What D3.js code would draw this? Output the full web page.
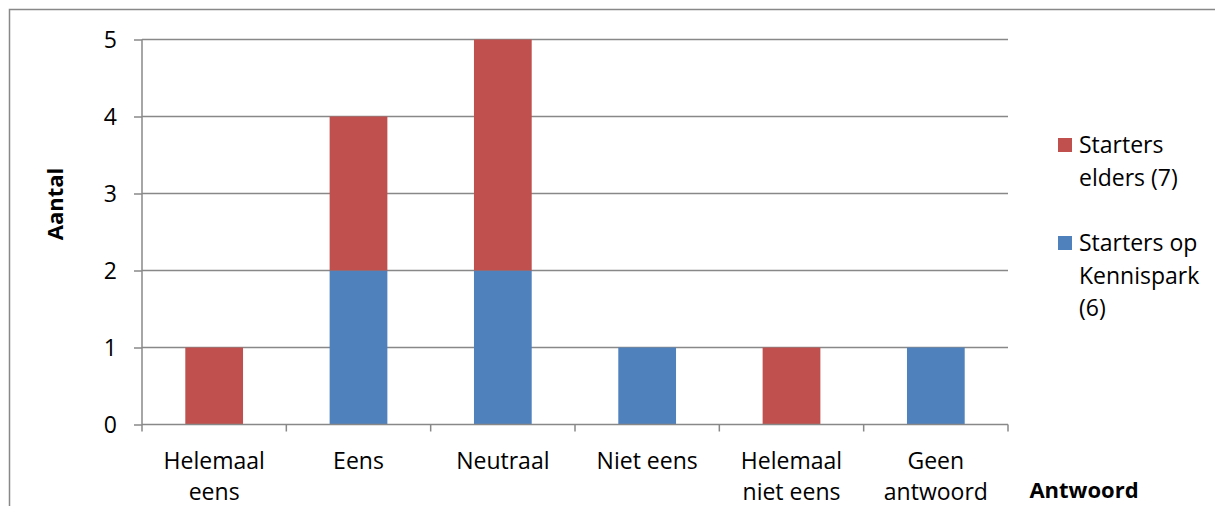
<!DOCTYPE html>
<html>
<head>
<meta charset="utf-8">
<script src="https://cdn.jsdelivr.net/npm/d3@7"></script>
<style>
  html, body { margin: 0; padding: 0; background: #fff; }
  svg { display: block; font-family: "Open Sans", sans-serif; }
</style>
</head>
<body>
<svg id="chart" width="1215" height="506"></svg>
<script>
// Answer categories (each label split into lines)
const categories = [
  ["Helemaal", "eens"],
  ["Eens"],
  ["Neutraal"],
  ["Niet eens"],
  ["Helemaal", "niet eens"],
  ["Geen", "antwoord"]
];
// Stacked series, bottom to top
const kennispark = [0, 2, 2, 1, 0, 1];
const elders     = [1, 2, 3, 0, 1, 0];
const seriesNames = ["Starters op Kennispark (6)", "Starters elders (7)"];
const seriesColors = ["#4F81BD", "#C0504D"];
const yTicks = [0, 1, 2, 3, 4, 5];

const svg = d3.select("#chart");
const grid = "#888888";

// Outer chart frame
svg.append("rect")
  .attr("x", 9.5).attr("y", 9.5)
  .attr("width", 1300).attr("height", 600)
  .attr("fill", "none").attr("stroke", grid).attr("stroke-width", 1.5);

const plot = { left: 142, right: 1008, top: 39.5, bottom: 424.5 };

const x = d3.scaleBand()
  .domain(d3.range(categories.length))
  .range([plot.left, plot.right])
  .paddingInner(0.6).paddingOuter(0.3);

const y = d3.scaleLinear().domain([0, 5]).range([plot.bottom, plot.top]);

// Horizontal gridlines
svg.append("g").selectAll("line").data(yTicks.filter(d => d > 0)).join("line")
  .attr("x1", plot.left).attr("x2", plot.right)
  .attr("y1", d => y(d)).attr("y2", d => y(d))
  .attr("stroke", grid).attr("stroke-width", 1.5);

// Stacked bars
const rows = categories.map((c, i) => ({ i, k: kennispark[i], e: elders[i] }));
const stack = d3.stack().keys(["k", "e"])(rows);
svg.append("g").selectAll("g").data(stack).join("g")
  .attr("fill", (d, i) => seriesColors[i])
  .selectAll("rect").data(d => d).join("rect")
  .attr("x", d => x(d.data.i))
  .attr("width", x.bandwidth())
  .attr("y", d => y(d[1]))
  .attr("height", d => y(d[0]) - y(d[1]));

// Y axis
const yAxis = svg.append("g").attr("transform", `translate(${plot.left},0)`)
  .call(d3.axisLeft(y).tickValues(yTicks).tickSize(8).tickPadding(17).tickFormat(d3.format("d")));
yAxis.select(".domain").attr("stroke", grid).attr("stroke-width", 1.5)
  .attr("d", `M0,${plot.top}V${plot.bottom}`);
yAxis.selectAll(".tick line").attr("stroke", grid).attr("stroke-width", 1.5);
yAxis.selectAll(".tick text").attr("font-size", 23).attr("fill", "#000")
  .attr("font-family", "Open Sans, sans-serif").attr("dy", "0.36em");

// X axis baseline and boundary ticks
const bounds = d3.range(categories.length + 1).map(i => plot.left + i * (plot.right - plot.left) / categories.length);
svg.append("line")
  .attr("x1", plot.left).attr("x2", plot.right)
  .attr("y1", plot.bottom).attr("y2", plot.bottom)
  .attr("stroke", grid).attr("stroke-width", 1.5);
svg.append("g").selectAll("line").data(bounds).join("line")
  .attr("x1", d => d).attr("x2", d => d)
  .attr("y1", plot.bottom).attr("y2", plot.bottom + 7)
  .attr("stroke", grid).attr("stroke-width", 1.5);

// Category labels
svg.append("g").selectAll("text").data(categories).join("text")
  .attr("x", (d, i) => x(i) + x.bandwidth() / 2)
  .attr("y", 469)
  .attr("text-anchor", "middle").attr("font-size", 23).attr("fill", "#000")
  .selectAll("tspan").data(d => d).join("tspan")
  .attr("x", function () { return d3.select(this.parentNode).attr("x"); })
  .attr("dy", (d, j) => j === 0 ? 0 : 31)
  .text(d => d);

// Axis titles
svg.append("text")
  .attr("transform", "translate(63,204) rotate(-90)")
  .attr("text-anchor", "middle").attr("font-weight", "bold").attr("font-size", 22)
  .text("Aantal");
svg.append("text")
  .attr("x", 1084).attr("y", 498)
  .attr("text-anchor", "middle").attr("font-weight", "bold").attr("font-size", 22)
  .text("Antwoord");

// Legend (top entry is the upper series)
const legend = [
  { color: seriesColors[1], lines: ["Starters", "elders (7)"], y: 145 },
  { color: seriesColors[0], lines: ["Starters op", "Kennispark", "(6)"], y: 243 }
];
const lg = svg.append("g").selectAll("g").data(legend).join("g");
lg.append("rect")
  .attr("x", 1058).attr("y", d => d.y - 7)
  .attr("width", 14).attr("height", 14)
  .attr("fill", d => d.color);
lg.append("text")
  .attr("x", 1079).attr("y", d => d.y + 8)
  .attr("font-size", 23).attr("fill", "#000")
  .selectAll("tspan").data(d => d.lines).join("tspan")
  .attr("x", 1079).attr("dy", (d, j) => j === 0 ? 0 : 32.5)
  .text(d => d);
</script>
</body>
</html>
